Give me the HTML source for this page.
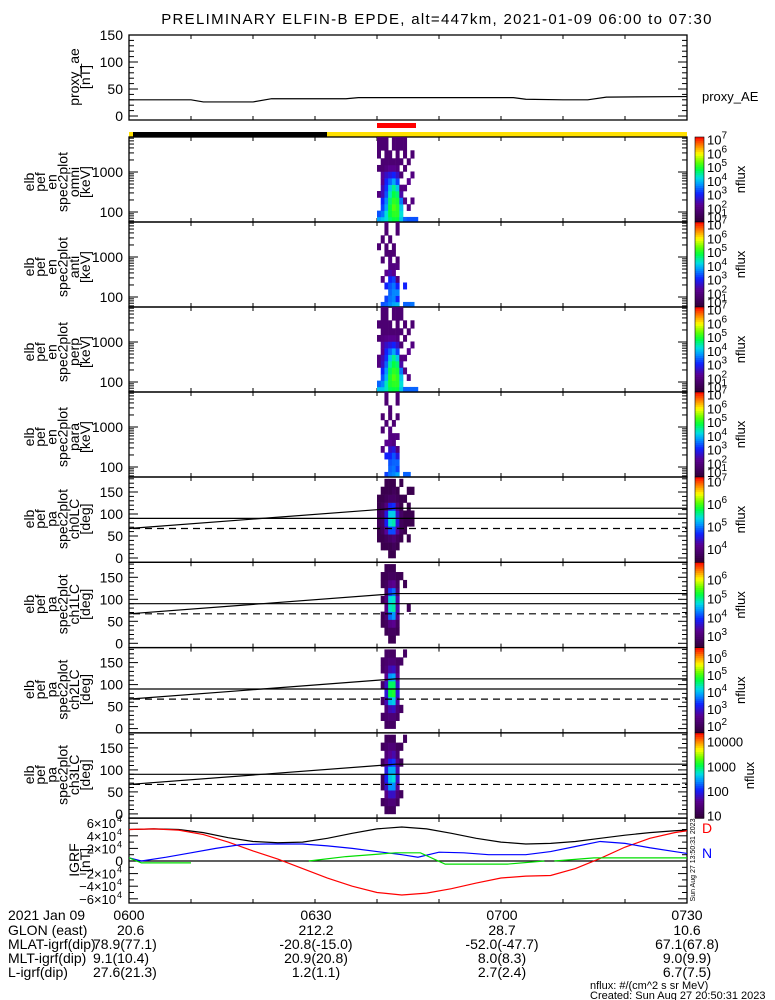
<!DOCTYPE html>
<html><head><meta charset="utf-8">
<style>
html,body{margin:0;padding:0;background:#fff;}
svg{display:block;font-family:"Liberation Sans",sans-serif;}
text{fill:#000;}
</style></head>
<body>
<svg id="chart" width="775" height="1000" viewBox="0 0 775 1000">
<text x="437" y="24" font-size="15" letter-spacing="1.3" text-anchor="middle">PRELIMINARY ELFIN-B EPDE, alt=447km, 2021-01-09 06:00 to 07:30</text>
<g id="layer"></g>
</svg>
<script>
// ---- data ----
const aeTimes = [0, 10, 12, 20, 23, 35, 37, 62, 64, 70, 74, 77, 90];
const aeValues = [30, 30, 26, 26, 32, 32, 34, 34, 31, 30, 30, 35, 36];
const specTimes = [40.0, 40.6, 41.2, 41.8, 42.4, 43.0, 43.6, 44.2, 44.8, 45.4, 46.0];
const energyBins = [63, 90, 130, 190, 280, 400, 580, 850, 1250, 1800, 2700, 4500];
const paBins = [9, 27, 45, 63, 81, 99, 117, 135, 153, 171];
const omniFlux = [
 [3.8,3.3,0,0,2.0,0,0,0,1.8,0,1.8,1.8],
 [4.0,3.5,3.2,3.0,2.5,2.5,2.2,2.3,1.8,1.8,0,1.8],
 [4.2,4.2,3.8,3.6,3.3,3.1,3.0,2.6,2.0,1.8,1.8,1.8],
 [4.6,4.8,4.8,4.6,4.3,4.0,3.4,2.8,2.2,1.8,1.8,0],
 [4.8,5.0,5.2,5.0,4.8,4.5,3.8,3.0,2.2,1.8,0,1.8],
 [4.8,5.0,5.0,4.9,4.6,4.0,3.2,2.6,2.0,1.8,1.8,1.8],
 [4.0,4.2,4.0,3.5,2.4,2.0,0,1.8,0,1.8,0,1.8],
 [3.4,0,0,2.0,0,2.0,0,0,1.8,0,1.8,1.8],
 [3.3,0,2.0,0,0,0,2.2,0,0,1.8,0,0],
 [3.3,0,0,2.0,0,0,0,2.0,0,0,1.8,0],
 [3.3,0,0,0,0,0,0,0,0,0,0,0]];
const antiFlux = [
 [0,0,0,0,0,0,0,0,0,1.8,0,0],
 [3.3,0,0,0,2.0,0,0,1.8,0,0,1.8,0],
 [3.4,3.2,0,3.0,0,2.2,0,0,1.8,1.8,0,1.8],
 [3.6,3.5,3.4,3.3,3.0,2.4,2.0,2.0,1.8,0,1.8,0],
 [3.8,3.6,3.6,3.5,3.2,2.2,2.0,0,1.8,1.8,0,0],
 [3.9,3.0,3.6,3.0,2.0,0,2.0,1.8,0,0,0,1.8],
 [0,0,0,0,0,0,0,0,0,0,0,0],
 [3.4,0,0,3.0,0,0,0,0,0,0,0,0],
 [3.4,0,0,0,0,0,0,0,0,0,0,0],
 [3.5,0,0,0,0,0,0,0,0,0,0,0],
 [0,0,0,0,0,0,0,0,0,0,0,0]];
const perpFlux = [
 [4.0,3.4,0,0,2.0,2.0,0,0,1.8,0,1.8,0],
 [4.0,3.6,3.3,3.0,2.6,2.5,2.2,2.3,2.0,1.8,1.8,1.8],
 [4.3,4.3,3.9,3.7,3.4,3.1,3.0,2.6,2.1,1.8,1.8,1.8],
 [4.7,4.9,4.9,4.7,4.4,4.0,3.4,2.8,2.2,1.8,1.8,0],
 [4.8,5.0,5.2,5.0,4.8,4.5,3.8,3.0,2.2,1.8,0,1.8],
 [4.8,5.0,5.0,4.9,4.6,4.0,3.2,2.6,2.0,1.8,1.8,1.8],
 [4.0,4.2,4.0,3.5,2.4,2.0,0,1.8,0,1.8,0,1.8],
 [3.4,0,0,2.0,0,2.0,0,0,1.8,0,1.8,0],
 [3.4,0,2.0,0,0,0,2.2,0,0,1.8,0,0],
 [3.4,0,0,0,0,0,0,2.0,0,0,1.8,0],
 [3.4,0,0,0,0,0,0,0,0,0,0,0]];
const paraFlux = [
 [0,0,0,0,0,0,0,0,0,0,0,0],
 [0,0,0,0,2.0,0,0,1.8,0,1.8,0,0],
 [3.2,0,0,3.0,0,2.2,0,0,1.8,0,0,1.8],
 [3.5,3.4,3.3,3.0,2.6,2.2,2.0,2.0,0,1.8,1.8,0],
 [3.6,3.5,3.4,3.3,2.8,2.0,2.0,0,1.8,0,0,0],
 [3.8,3.2,3.4,2.8,2.0,0,2.0,0,0,1.8,0,1.8],
 [0,0,0,0,0,0,0,0,0,0,0,0],
 [3.4,0,0,0,0,0,0,0,0,0,0,0],
 [3.4,0,0,0,0,0,0,0,0,0,0,0],
 [0,0,0,0,0,0,0,0,0,0,0,0],
 [0,0,0,0,0,0,0,0,0,0,0,0]];
const pa0Flux = [
 [0,0,3.6,3.6,3.7,3.7,3.6,3.6,0,0],
 [0,3.6,3.6,3.7,3.8,3.8,3.7,3.6,3.6,0],
 [0,3.6,3.7,4.2,4.6,4.5,4.0,3.7,3.6,3.6],
 [3.6,3.6,3.8,4.8,5.4,5.3,4.6,3.8,3.6,3.6],
 [3.6,3.7,3.9,4.8,5.5,5.3,4.7,3.8,3.7,3.6],
 [0,3.6,3.7,4.2,4.5,4.4,4.0,3.7,3.6,0],
 [0,0,3.6,3.7,3.7,3.8,3.6,3.6,0,3.6],
 [0,0,0,3.6,3.6,3.6,0,3.6,0,0],
 [0,0,3.6,0,3.6,3.6,3.6,0,3.6,0],
 [0,0,0,0,3.6,3.6,0,0,3.6,0],
 [0,0,0,0,0,0,0,0,0,0]];
const pa1Flux = [
 [0,0,0,0,0,0,0,0,0,0],
 [0,0,2.7,2.7,0,2.7,0,2.7,2.7,0],
 [0,2.7,2.8,3.0,3.2,3.1,2.9,2.8,2.7,2.7],
 [2.7,2.8,3.2,4.2,4.8,4.7,4.0,3.2,2.8,2.7],
 [2.7,2.8,3.3,4.4,4.9,4.8,4.2,3.3,2.8,2.7],
 [0,2.7,2.8,3.2,3.4,3.4,3.0,2.8,2.7,0],
 [0,0,0,0,0,0,0,0,2.7,0],
 [0,0,0,0,0,0,0,2.7,0,0],
 [0,0,0,0,2.7,0,0,0,0,0],
 [0,0,0,0,0,0,0,0,0,0],
 [0,0,0,0,0,0,0,0,0,0]];
const pa2Flux = [
 [0,0,0,0,0,0,0,0,0,0],
 [0,2.1,0,2.1,0,2.1,0,2.1,2.1,0],
 [2.1,2.2,2.3,2.8,3.0,2.9,2.6,2.3,2.2,2.1],
 [2.1,2.3,2.8,4.0,4.7,4.6,3.8,2.8,2.3,2.1],
 [2.1,2.3,2.9,4.1,4.8,4.6,3.9,2.9,2.3,2.1],
 [0,2.1,2.3,2.7,3.0,2.9,2.6,2.3,2.1,0],
 [0,0,2.1,0,0,0,0,0,2.1,0],
 [0,0,0,0,0,0,0,0,0,2.1],
 [0,0,0,0,0,0,0,0,0,0],
 [0,0,0,0,0,0,0,0,0,0],
 [0,0,0,0,0,0,0,0,0,0]];
const pa3Flux = [
 [0,0,0,0,0,0,0,0,0,0],
 [0,1.2,0,1.2,1.2,0,1.2,0,1.2,0],
 [1.2,1.3,1.5,1.8,2.0,1.9,1.6,1.4,1.3,1.2],
 [1.2,1.4,1.8,2.4,2.6,2.5,2.0,1.6,1.4,1.2],
 [1.2,1.4,1.8,2.4,2.7,2.5,2.1,1.7,1.4,1.2],
 [0,1.2,1.4,1.6,1.8,1.7,1.5,1.3,1.2,0],
 [0,0,1.2,0,0,0,1.2,0,1.2,0],
 [0,0,0,0,0,0,0,0,0,1.2],
 [0,0,0,0,0,0,0,0,0,0],
 [0,0,0,0,0,0,0,0,0,0],
 [0,0,0,0,0,0,0,0,0,0]];
const lcTimes = [0, 43, 90];
const lcUpper = [67, 113, 113];
const blackTimes = [0,4,8,12,16,20,24,28,32,36,40,44,48,52,56,60,64,68,72,76,80,84,88,90];
const igrfBlack = [50000,51000,50000,45000,37000,31000,29000,30000,36000,44000,51000,54000,51000,44000,36000,30000,27000,28000,31000,36000,41000,45000,48000,49000];
const redTimes = [0,4,8,12,16,20,24,28,32,36,40,44,48,52,56,60,64,68,72,76,80,84,88,90];
const igrfRed = [50000,51000,49000,42000,30000,16000,3000,-12000,-27000,-40000,-50000,-54000,-51000,-44000,-35000,-27000,-24000,-23000,-12000,4000,22000,36000,45000,48000];
const blueTimes = [0,2,6,10,14,18,22,28,32,36,40,44,46.6,50,54,58,64,68,72,76,80,84,88,90];
const igrfBlue = [5000,0,6000,13000,20000,26000,27000,27000,24000,20000,15000,10000,6000,14000,13000,10000,10000,15000,23000,31000,28000,21000,15000,12000];
const greenTimes = [0,2,10,null,29,35,43,47,51,61,67,null,68.6,75,90];
const igrfGreen = [5000,-3000,-3000,null,0,7000,13000,13000,-5000,-5000,0,null,0,5000,5000];
const bottomTicks = ['0600', '0630', '0700', '0730'];
const glonVals = ['20.6', '212.2', '28.7', '10.6'];
const mlatVals = ['78.9(77.1)', '-20.8(-15.0)', '-52.0(-47.7)', '67.1(67.8)'];
const mltVals = ['9.1(10.4)', '20.9(20.8)', '8.0(8.3)', '9.0(9.9)'];
const lVals = ['27.6(21.3)', '1.2(1.1)', '2.7(2.4)', '6.7(7.5)'];

// ---- helpers ----
const NS = 'http://www.w3.org/2000/svg';
const layer = document.getElementById('layer');
const X0 = 129, X1 = 687;
function xT(t) { return X0 + t / 90 * (X1 - X0); }
function mk(tag, attrs, parent) {
  const e = document.createElementNS(NS, tag);
  for (const k in attrs) e.setAttribute(k, attrs[k]);
  (parent || layer).appendChild(e);
  return e;
}
const stops = [[0,[48,0,56]],[0.2,[90,0,144]],[0.33,[16,32,255]],[0.45,[0,160,255]],[0.52,[0,224,224]],[0.62,[0,255,64]],[0.7,[96,255,0]],[0.8,[255,255,0]],[0.9,[255,128,0]],[1,[255,0,0]]];
function cmap(f) {
  f = Math.max(0, Math.min(1, f));
  for (let i = 1; i < stops.length; i++) {
    if (f <= stops[i][0]) {
      const a = stops[i-1], b = stops[i], u = (f - a[0]) / (b[0] - a[0]);
      const c = a[1].map((v, j) => Math.round(v + (b[1][j] - v) * u));
      return 'rgb(' + c.join(',') + ')';
    }
  }
  return 'rgb(255,0,0)';
}
function txt(x, y, s, size, attrs, parent) {
  const t = mk('text', Object.assign({x: x, y: y, 'font-size': size}, attrs || {}), parent);
  t.textContent = s;
  return t;
}
function box(top, bot, name) {
  const g = mk('g', {});
  
  
  mk('rect', {x: X0, y: top, width: X1 - X0, height: bot - top, fill: 'none', stroke: '#000', 'stroke-width': 1.3}, g);
  for (let m = 10; m < 90; m += 10) {
    const x = xT(m);
    mk('line', {x1: x, x2: x, y1: bot, y2: bot - 4, stroke: '#000'}, g);
    mk('line', {x1: x, x2: x, y1: top, y2: top + 4, stroke: '#000'}, g);
  }
  return g;
}
function yticks(g, vals, yf, len) {
  vals.forEach(v => {
    const y = yf(v);
    mk('line', {x1: X0, x2: X0 + len, y1: y, y2: y, stroke: '#000'}, g);
    mk('line', {x1: X1, x2: X1 - len, y1: y, y2: y, stroke: '#000'}, g);
  });
}
function leftLabel(lines, cy, name) {
  const g = mk('g', {});
  
  
  const n = lines.length, x0 = 86 - (n - 1) * 11.2;
  lines.forEach((s, i) => {
    txt(0, 0, s, 14, {'text-anchor': 'middle', transform: 'translate(' + (x0 + i * 11.2 + 4) + ',' + cy + ') rotate(-90)'}, g);
  });
}
function colorbar(top, bot, lo, hi, labels, name) {
  const g = mk('g', {});
  
  
  const N = 40, h = (bot - top) / N;
  for (let i = 0; i < N; i++) {
    mk('rect', {x: 695, y: top + i * h, width: 9, height: h + 0.5, fill: cmap(1 - (i + 0.5) / N)}, g);
  }
  mk('rect', {x: 695, y: top, width: 9, height: bot - top, fill: 'none', stroke: '#000', 'stroke-width': 0.6}, g);
  labels.forEach(L => {
    const y = bot - (L.v - lo) / (hi - lo) * (bot - top);
    const t = txt(707, y + 5, L.base, 13, {}, g);
    if (L.exp) { const s = mk('tspan', {dy: -6, 'font-size': 10}, t); s.textContent = L.exp; }
  });
  txt(0, 0, 'nflux', 13, {'text-anchor': 'middle', transform: 'translate(' + (name === 'colorbar-ch3' ? 754 : 745) + ',' + ((top + bot) / 2) + ') rotate(-90)'}, g);
}
function spec(g, data, bins, yOf, binEdges, lo, hi) {
  const dt = 0.6;
  data.forEach((col, i) => {
    col.forEach((v, j) => {
      if (!v) return;
      const x = xT(specTimes[i]);
      const y1 = yOf(binEdges[j + 1]), y2 = yOf(binEdges[j]);
      const r = mk('rect', {x: x, y: y1, width: xT(specTimes[i] + dt) - x + 0.3, height: y2 - y1 + 0.3, fill: cmap((v - lo) / (hi - lo))}, g);
      
      
    });
  });
}

// ---- proxy AE panel ----
{
  const top = 35, bot = 120;
  const yA = v => 116 - v * 0.54;
  const g = box(top, bot, 'proxy-ae-panel');
  yticks(g, [0, 50, 100, 150], yA, 9);
  const minor = []; for (let v = 10; v < 150; v += 10) if (v % 50) minor.push(v);
  yticks(g, minor, yA, 5);
  [0, 50, 100, 150].forEach(v => txt(123, yA(v) + 5, String(v), 14, {'text-anchor': 'end'}, g));
  const pts = aeTimes.map((t, i) => xT(t) + ',' + yA(aeValues[i])).join(' ');
  const pl = mk('polyline', {points: pts, fill: 'none', stroke: '#000', 'stroke-width': 1.2}, g);
  
  
  txt(702, 101, 'proxy_AE', 13, {}, g);
  leftLabel(['proxy_ae', '[nT]'], 77, 'proxy-ae-y-title');
}
// ---- status bars ----
{
  const r1 = mk('rect', {x: 377, y: 123, width: 39, height: 5, fill: '#ff0000'});
  
  
  const r2 = mk('rect', {x: X0, y: 132, width: X1 - X0, height: 5, fill: '#ffe000'});
  
  
  const r3 = mk('rect', {x: 133, y: 132, width: 194, height: 5, fill: '#000'});
  
  
}
// ---- energy panels ----
const eEdges = [56]; for (let j = 0; j < energyBins.length - 1; j++) eEdges.push(Math.sqrt(energyBins[j] * energyBins[j + 1])); eEdges.push(7500);
const ePanels = [[omniFlux, 'omni'], [antiFlux, 'anti'], [perpFlux, 'perp'], [paraFlux, 'para']];
const eLabels = [{v:7,base:'10',exp:'7'},{v:6,base:'10',exp:'6'},{v:5,base:'10',exp:'5'},{v:4,base:'10',exp:'4'},{v:3,base:'10',exp:'3'},{v:2,base:'10',exp:'2'},{v:1.35,base:'10',exp:'1'}];
ePanels.forEach((p, k) => {
  const top = 137 + k * 85, bot = top + 85;
  const yE = e => top + 35 - Math.log10(e / 1000) * 40;
  const g = box(top, bot, 'energy-panel-' + p[1]);
  spec(g, p[0], energyBins, yE, eEdges, 1, 7.1);
  yticks(g, [100, 1000], yE, 9);
  const minor = [60,70,80,90,200,300,400,500,600,700,800,900,2000,3000,4000,5000,6000,7000];
  yticks(g, minor, yE, 5);
  txt(123, yE(1000) + 5, '1000', 14, {'text-anchor': 'end'}, g);
  txt(123, yE(100) + 5, '100', 14, {'text-anchor': 'end'}, g);
  leftLabel(['elb', 'pef', 'en', 'spec2plot', p[1], '[keV]'], top + 45, 'energy-y-title-' + p[1]);
  colorbar(top, bot, 1.0, 7.2, eLabels, 'colorbar-' + p[1]);
});
// ---- pitch-angle panels ----
const paEdges = [0, 18, 36, 54, 72, 90, 108, 126, 144, 162, 180];
const paPanels = [[pa0Flux, 'ch0LC', 3.4, 7.2, [7,6,5,4]], [pa1Flux, 'ch1LC', 2.4, 6.9, [6,5,4,3]], [pa2Flux, 'ch2LC', 1.6, 6.6, [6,5,4,3,2]], [pa3Flux, 'ch3LC', 0.9, 4.35, [4,3,2,1]]];
paPanels.forEach((p, k) => {
  const top = 477 + k * 85.3, bot = top + 85.3;
  const yP = a => top + 81 - a * 0.44;
  const g = box(top, bot, 'pitch-angle-panel-' + p[1]);
  spec(g, p[0], paBins, yP, paEdges, p[2], p[3]);
  yticks(g, [0, 50, 100, 150], yP, 9);
  const minor = []; for (let v = 10; v <= 180; v += 10) if (v % 50) minor.push(v);
  yticks(g, minor, yP, 5);
  [0, 50, 100, 150].forEach(v => txt(123, yP(v) + 5, String(v), 14, {'text-anchor': 'end'}, g));
  const l90 = mk('line', {x1: X0, x2: X1, y1: yP(90), y2: yP(90), stroke: '#000', 'stroke-width': 1.2}, g);
  
  
  const ld = mk('line', {x1: X0 + 4, x2: X1, y1: yP(67), y2: yP(67), stroke: '#000', 'stroke-width': 1.2, 'stroke-dasharray': '7,5'}, g);
  
  
  const lu = mk('polyline', {points: lcTimes.map((t, i) => xT(t) + ',' + yP(lcUpper[i])).join(' '), fill: 'none', stroke: '#000', 'stroke-width': 1.2}, g);
  
  
  leftLabel(['elb', 'pef', 'pa', 'spec2plot', p[1], '[deg]'], top + 42, 'pa-y-title-' + p[1]);
  const labs = p[4].map(v => (p[1] === 'ch3LC') ? {v: v, base: String(Math.pow(10, v))} : {v: v, base: '10', exp: String(v)});
  colorbar(top, bot, p[2], p[3], labs, 'colorbar-' + (p[1] === 'ch3LC' ? 'ch3' : p[1]));
});
// ---- IGRF panel ----
{
  const top = 818, bot = 903;
  const yI = v => 861 - v / 10000 * 6.3;
  const g = box(top, bot, 'igrf-panel');
  mk('line', {x1: X0, x2: X1, y1: yI(0), y2: yI(0), stroke: '#000', 'stroke-width': 1.2}, g);
  yticks(g, [-60000, -40000, -20000, 0, 20000, 40000, 60000], yI, 9);
  const minor = []; for (let v = -50000; v <= 50000; v += 10000) if (v % 20000) minor.push(v);
  yticks(g, minor, yI, 5);
  [-60000, -40000, -20000, 0, 20000, 40000, 60000].forEach(v => {
    if (v === 0) { txt(123, yI(0) + 5, '0', 14, {'text-anchor': 'end'}, g); return; }
    txt(116, yI(v) + 5, (v < 0 ? '\u2212' : '') + Math.abs(v / 10000) + '\u00d710', 13, {'text-anchor': 'end'}, g);
    txt(117, yI(v) - 1, '4', 9, {}, g);
  });
  function segs(ts, vs) {
    const out = []; let cur = [];
    ts.forEach((t, i) => {
      if (t === null || vs[i] === null) { if (cur.length) out.push(cur); cur = []; return; }
      cur.push(xT(t) + ',' + yI(vs[i]));
    });
    if (cur.length) out.push(cur);
    return out;
  }
  const series = [[blackTimes, igrfBlack, '#000', 'igrf-total-line'], [redTimes, igrfRed, '#ff0000', 'igrf-down-line'], [blueTimes, igrfBlue, '#0000ff', 'igrf-north-line'], [greenTimes, igrfGreen, '#00dd00', 'igrf-east-line']];
  series.forEach(s => {
    segs(s[0], s[1]).forEach(pts => {
      const pl = mk('polyline', {points: pts.join(' '), fill: 'none', stroke: s[2], 'stroke-width': 1.2}, g);
      
      
    });
  });
  txt(702, 833, 'D', 14, {style: 'fill:#ff0000'}, g);
  txt(702, 858, 'N', 14, {style: 'fill:#0000ff'}, g);
  leftLabel(['IGRF', '[nT]'], 860, 'igrf-y-title');
  txt(0, 0, 'Sun Aug 27 13:50:31 2023', 7, {'text-anchor': 'middle', transform: 'translate(695,860) rotate(-90)'}, g);
}
// ---- bottom annotation ----
{
  const g = mk('g', {});
  
  
  const xs = [129, 316, 502, 687];
  const rows = [['2021 Jan 09', bottomTicks, 920], ['GLON (east)', glonVals, 935], ['MLAT-igrf(dip)', mlatVals, 949], ['MLT-igrf(dip)', mltVals, 963], ['L-igrf(dip)', lVals, 977]];
  rows.forEach(r => {
    txt(8, r[2], r[0], 14, {}, g);
    r[1].forEach((s, i) => {
      let x = xs[i], anchor = 'middle';
      if (i === 0 && r[0] !== '2021 Jan 09') { anchor = 'start'; x = r[0] === 'GLON (east)' ? 117 : 93; }
      txt(x, r[2], s, 14, {'text-anchor': anchor}, g);
    });
  });
  txt(590, 989, 'nflux: #/(cm^2 s sr MeV)', 11, {}, g);
  txt(590, 999, 'Created: Sun Aug 27 20:50:31 2023', 11, {}, g);
}
</script>
</body></html>
